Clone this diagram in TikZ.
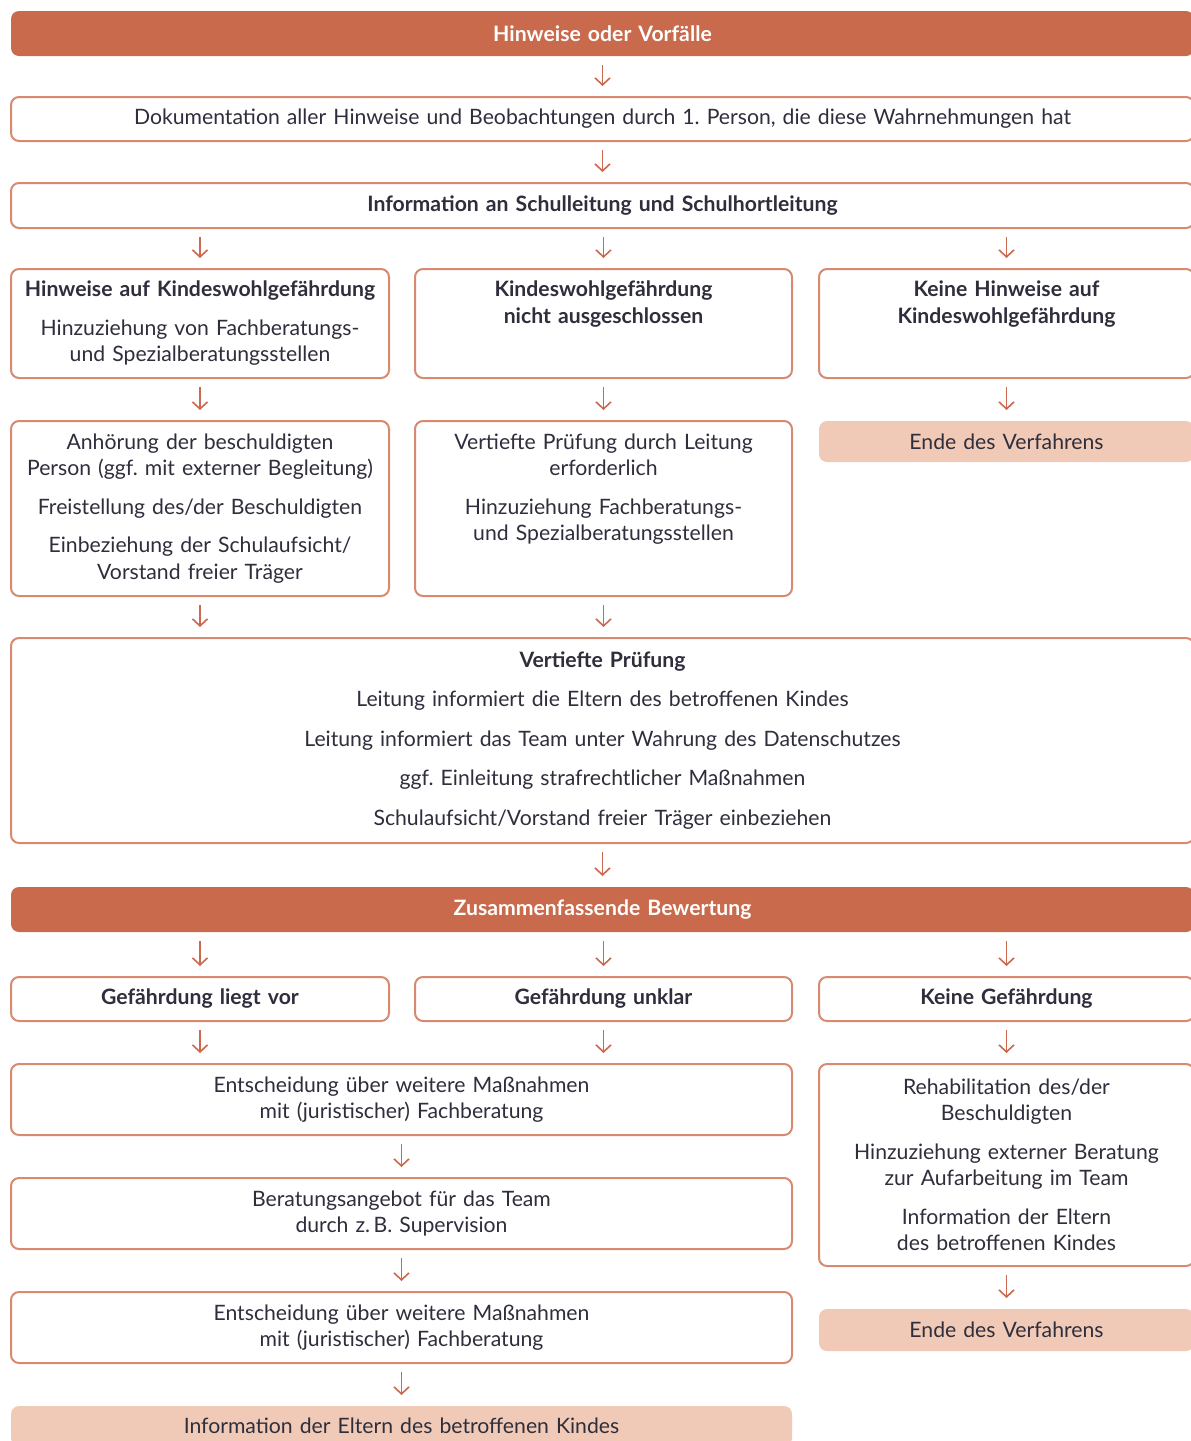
\documentclass[tikz,border=0pt]{standalone}
\usepackage{fontspec}
\setmainfont{Lato}
\frenchspacing
\usetikzlibrary{arrows.meta}
\definecolor{banner}{RGB}{201,106,76}
\definecolor{boxline}{RGB}{216,138,112}
\definecolor{endfill}{RGB}{240,202,182}
\definecolor{arrowcol}{RGB}{203,104,78}
\definecolor{textcol}{RGB}{46,46,60}
\begin{document}
\begin{tikzpicture}[x=0.5pt,y=-0.5pt,
		box/.style={draw=boxline,line width=1pt,rounded corners=4pt,fill=white,anchor=north west,
			align=center,inner sep=0pt,text=textcol,font=\fontsize{10.6}{13.25}\selectfont},
		band/.style={box,draw=none,fill=banner,text=white,font=\fontsize{10.6}{13.25}\selectfont\bfseries},
		endbox/.style={box,draw=none,fill=endfill},
		wide/.style={minimum width=591.5pt,text width=580pt},
		dbl/.style={minimum width=390.5pt,text width=380pt},
		colA/.style={minimum width=189pt,text width=184pt},
		colB/.style={minimum width=188.5pt,text width=184pt},
		colC/.style={minimum width=187.5pt,text width=184pt},
		arr/.style={draw=arrowcol,line width=0.8pt,-{Straight Barb[length=3.5pt,width=7.5pt]},
			shorten <=4pt,shorten >=5pt}]
	\useasboundingbox (0,0) rectangle (1190,1441);
	% Kopf
	\node[band,wide,minimum height=22.5pt] (start) at (10,10) {Hinweise oder Vorfälle};
	\node[box,wide,minimum height=22pt] (doku) at (10,96) {Dokumentation aller Hinweise und Beobachtungen durch 1. Person, die diese Wahrnehmungen hat};
	\node[box,wide,minimum height=22.5pt] (info) at (10,182) {\textbf{Information an Schulleitung und Schulhortleitung}};
	% drei Spalten
	\node[box,colA,minimum height=54.5pt] (hinw) at (10,268) {\textbf{Hinweise auf Kindeswohlgefährdung}\\[6pt]Hinzuziehung von Fachberatungs-\\und Spezialberatungsstellen};
	\node[box,colB,minimum height=54.5pt] (nicht) at (414,268) {\textbf{Kindeswohlgefährdung}\\\textbf{nicht ausgeschlossen}\\[6pt]\vphantom{g}};
	\node[box,colC,minimum height=54.5pt] (keine) at (818,268) {\textbf{Keine Hinweise auf}\\\textbf{Kindeswohlgefährdung}\\[6pt]\vphantom{g}};
	\node[box,colA,minimum height=87.5pt] (anh) at (10,420) {Anhörung der beschuldigten\\Person (ggf. mit externer Begleitung)\\[6pt]Freistellung des/der Beschuldigten\\[6pt]Einbeziehung der Schulaufsicht/\\Vorstand freier Träger};
	\node[box,colB,minimum height=87.5pt] (vert) at (414,420) {Vertiefte Prüfung durch Leitung\\erforderlich\\[6pt]Hinzuziehung Fachberatungs-\\und Spezialberatungsstellen\\[6pt]\vphantom{g}};
	\node[endbox,colC,minimum height=20.5pt] (ende1) at (818,420) {Ende des Verfahrens};
	% Vertiefte Pruefung
	\node[box,wide,minimum height=102.5pt] (pruef) at (10,637) {\textbf{Vertiefte Prüfung}\\[6.5pt]Leitung informiert die Eltern des betroffenen Kindes\\[6.5pt]Leitung informiert das Team unter Wahrung des Datenschutzes\\[6.5pt]ggf. Einleitung strafrechtlicher Maßnahmen\\[6.5pt]Schulaufsicht/Vorstand freier Träger einbeziehen};
	\node[band,wide,minimum height=22.5pt] (bew) at (10,886) {Zusammenfassende Bewertung};
	% Bewertung
	\node[box,colA,minimum height=22pt] (liegt) at (10,976) {\textbf{Gefährdung liegt vor}};
	\node[box,colB,minimum height=22pt] (unklar) at (414,976) {\textbf{Gefährdung unklar}};
	\node[box,colC,minimum height=22pt] (keineg) at (818,976) {\textbf{Keine Gefährdung}};
	\node[box,dbl,minimum height=35.5pt] (ents1) at (10,1063) {Entscheidung über weitere Maßnahmen\\mit (juristischer) Fachberatung};
	\node[box,colC,minimum height=101pt] (reha) at (818,1063) {Rehabilitation des/der\\Beschuldigten\\[6pt]Hinzuziehung externer Beratung\\zur Aufarbeitung im Team\\[6pt]Information der Eltern\\des betroffenen Kindes};
	\node[box,dbl,minimum height=35.5pt] (berat) at (10,1177) {Beratungsangebot für das Team\\durch z.\,B. Supervision};
	\node[box,dbl,minimum height=35.5pt] (ents2) at (10,1291) {Entscheidung über weitere Maßnahmen\\mit (juristischer) Fachberatung};
	\node[endbox,colC,minimum height=21pt] (ende2) at (818,1308) {Ende des Verfahrens};
	\node[endbox,dbl,minimum height=20pt] (eltern) at (10,1405) {Information der Eltern des betroffenen Kindes};
	% Pfeile
	\draw[arr] (start.south) -- (doku.north);
	\draw[arr] (doku.south) -- (info.north);
	\draw[arr] (info.south -| hinw.north) -- (hinw.north);
	\draw[arr] (info.south -| nicht.north) -- (nicht.north);
	\draw[arr] (info.south -| keine.north) -- (keine.north);
	\draw[arr] (hinw.south) -- (anh.north);
	\draw[arr] (nicht.south) -- (vert.north);
	\draw[arr] (keine.south) -- (ende1.north);
	\draw[arr] (anh.south) -- (anh.south |- pruef.north);
	\draw[arr] (vert.south) -- (vert.south |- pruef.north);
	\draw[arr] (pruef.south) -- (bew.north);
	\draw[arr] (bew.south -| liegt.north) -- (liegt.north);
	\draw[arr] (bew.south -| unklar.north) -- (unklar.north);
	\draw[arr] (bew.south -| keineg.north) -- (keineg.north);
	\draw[arr] (liegt.south) -- (liegt.south |- ents1.north);
	\draw[arr] (unklar.south) -- (unklar.south |- ents1.north);
	\draw[arr] (keineg.south) -- (reha.north);
	\draw[arr] (ents1.south) -- (berat.north);
	\draw[arr] (berat.south) -- (ents2.north);
	\draw[arr] (ents2.south) -- (eltern.north);
	\draw[arr] (reha.south) -- (ende2.north);
\end{tikzpicture}
\end{document}
